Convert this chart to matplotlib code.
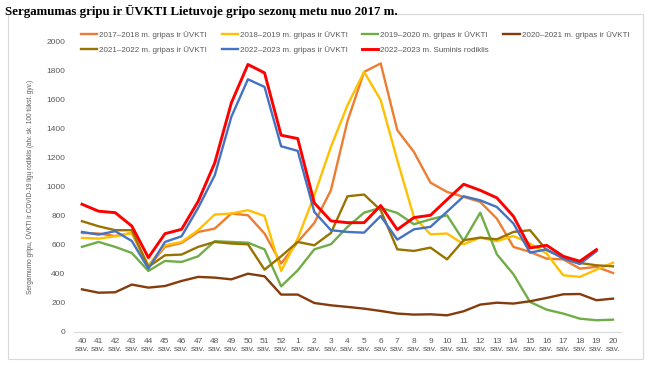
import matplotlib
matplotlib.use("Agg")
import matplotlib.pyplot as plt
from matplotlib.patches import Rectangle

weeks = [str(w) for w in range(40, 53)] + [str(w) for w in range(1, 21)]
tick_labels = [w + "\nsav." for w in weeks]

s2017 = [683, 679, 662, 683, 449, 587, 614, 690, 713, 817, 805, 679, 472, 621, 752, 978, 1455,
         1794, 1852, 1392, 1242, 1030, 966, 932, 897, 782, 587, 552, 506, 501, 437, 449, 407]
s2018 = [649, 644, 660, 683, 460, 598, 621, 702, 810, 817, 840, 800, 421, 644, 943, 1277, 1564,
         1794, 1599, 1185, 794, 674, 679, 605, 651, 626, 662, 610, 541, 391, 380, 430, 478]
s2019 = [587, 621, 587, 545, 421, 490, 483, 522, 626, 621, 616, 570, 315, 425, 570, 605, 725,
         823, 856, 821, 743, 777, 805, 628, 823, 536, 398, 207, 154, 127, 92, 81, 85]
s2020 = [294, 271, 274, 327, 306, 317, 352, 380, 375, 363, 402, 384, 258, 258, 200, 184, 173,
         161, 145, 127, 120, 122, 115, 143, 189, 202, 196, 212, 235, 260, 262, 219, 230]
s2021 = [764, 729, 702, 702, 449, 529, 534, 587, 621, 610, 605, 430, 522, 621, 598, 683, 936,
         948, 840, 570, 559, 582, 501, 633, 651, 639, 690, 702, 564, 513, 476, 460, 453]
s2022 = [690, 672, 695, 628, 437, 621, 660, 856, 1081, 1484, 1743, 1690, 1281, 1249, 828, 702, 690,
         685, 800, 637, 708, 725, 830, 936, 908, 862, 748, 547, 570, 506, 469, 557]
s2022_sum = [881, 833, 823, 731, 513, 678, 708, 901, 1166, 1580, 1845, 1787, 1357, 1334, 890, 766, 754,
             754, 872, 706, 789, 805, 913, 1019, 977, 925, 798, 580, 598, 522, 488, 568]

series = [
    ("2017\u20132018 m. gripas ir \u016aVKTI", s2017, "#ED7D31"),
    ("2018\u20132019 m. gripas ir \u016aVKTI", s2018, "#FFC000"),
    ("2019\u20132020 m. gripas ir \u016aVKTI", s2019, "#70AD47"),
    ("2020\u20132021 m. gripas ir \u016aVKTI", s2020, "#843C0C"),
    ("2021\u20132022 m. gripas ir \u016aVKTI", s2021, "#997300"),
    ("2022\u20132023 m. gripas ir \u016aVKTI", s2022, "#4472C4"),
    ("2022\u20132023 m. Suminis rodiklis", s2022_sum, "#FF0000"),
]

plt.rcParams['font.family'] = ['Liberation Sans', 'DejaVu Sans']
fig = plt.figure(figsize=(6.54, 3.69), dpi=100)
ax = fig.add_axes([0.1127, 0.1003, 0.8373, 0.7859])

handles = []
for i, (name, vals, col) in enumerate(series):
    lw = 2.1 if i == 6 else 1.7
    h, = ax.plot(range(len(vals)), vals, color=col, lw=lw, label=name,
                 solid_joinstyle='round', zorder=3 + (i == 6))
    handles.append(h)

ax.set_xlim(-0.5, len(weeks) - 0.5)
ax.set_ylim(0, 2000)
ax.set_yticks(range(0, 2001, 200))
ax.set_xticks(range(len(weeks)))
ax.set_xticklabels(tick_labels, fontsize=6, color="#595959", linespacing=1.3)
ax.tick_params(axis='y', labelsize=6, colors="#595959", length=0, pad=6)
ax.tick_params(axis='x', length=0, pad=4)
for s in ['top', 'right', 'left']:
    ax.spines[s].set_visible(False)
ax.spines['bottom'].set_color("#D9D9D9")

ax.set_ylabel("Sergamumo gripu, \u016aVKTI ir COVID-19 lig\u0173 rodiklis (atv. sk. 100 t\u016bkst. gyv.)",
              fontsize=4.7, color="#595959", labelpad=9)

order = [0, 4, 1, 5, 2, 6, 3]
leg = fig.legend([handles[i] for i in order], [series[i][0] for i in order],
                 ncol=4, loc='upper left', bbox_to_anchor=(0.119, 0.925),
                 frameon=False, fontsize=5.8, handlelength=2.0, handletextpad=0.25,
                 columnspacing=1.8, labelspacing=0.95, borderaxespad=0)
for t in leg.get_texts():
    t.set_color("#595959")

fig.text(0.008, 0.985, "Sergamumas gripu ir \u016aVKTI Lietuvoje gripo sezon\u0173 metu nuo 2017 m.",
         family=['Liberation Serif', 'DejaVu Serif'], fontweight='bold', fontsize=9.3,
         va='top', ha='left')

fig.patches.append(Rectangle((8 / 654, 1 - 359 / 369), 635 / 654, 345 / 369,
                             transform=fig.transFigure, fill=False, edgecolor="#D9D9D9", lw=0.8))

fig.savefig("out.png", dpi=100)
